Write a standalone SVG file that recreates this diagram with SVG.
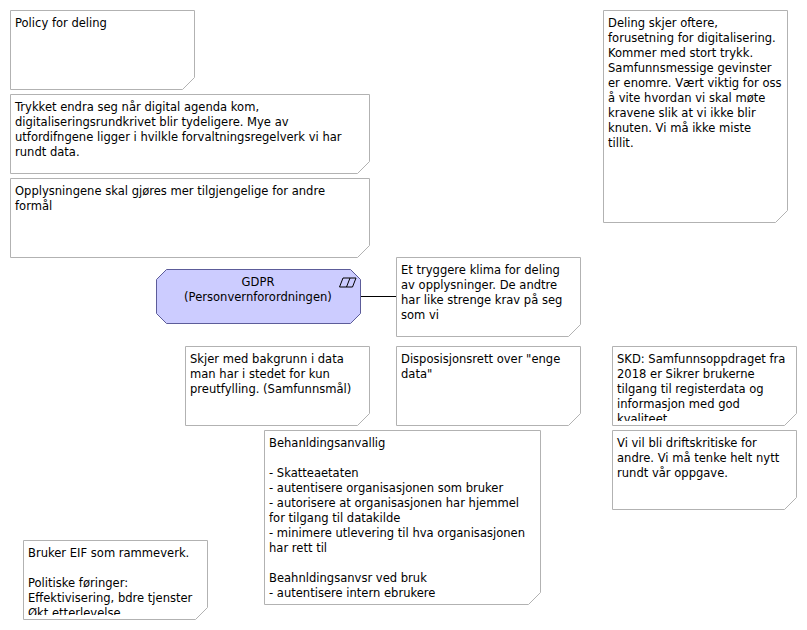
<svg xmlns="http://www.w3.org/2000/svg" width="807" height="630" viewBox="0 0 807 630">
<style>
.n{fill:#fff;stroke:#b2b2b2;stroke-width:1}
text{font-family:"DejaVu Sans",sans-serif;font-size:11.55px;fill:#000}
.c{text-anchor:middle}
</style>
<defs>
<clipPath id="c1"><rect x="613" y="347" width="183" height="74"/></clipPath>
<clipPath id="c2"><rect x="24" y="541" width="183" height="74"/></clipPath>
</defs>
<rect width="807" height="630" fill="#fff"/>
<g id="connectors"><line x1="360" y1="296.500" x2="396" y2="296.500" stroke="#000" stroke-width="1"/></g>
<g id="n1"><path class="n" d="M10.500 10.500H194.500V77.500L182.500 89.500H10.500Z"/>
<text x="15" y="27">Policy for deling</text></g>
<g id="n2"><path class="n" d="M10.500 94.500H369.500V161.500L357.500 173.500H10.500Z"/>
<text x="15" y="111">Trykket endra seg når digital agenda kom,</text>
<text x="15" y="126">digitaliseringsrundkrivet blir tydeligere. Mye av</text>
<text x="15" y="141">utfordifngene ligger i hvilkle forvaltningsregelverk vi har</text>
<text x="15" y="156">rundt data.</text></g>
<g id="n3"><path class="n" d="M10.500 178.500H369.500V245.500L357.500 257.500H10.500Z"/>
<text x="15" y="195">Opplysningene skal gjøres mer tilgjengelige for andre</text>
<text x="15" y="210">formål</text></g>
<g id="n4"><path d="M166.500 269.500H350.500L360.500 279.500V313.500L350.500 323.500H166.500L156.500 313.500V279.500Z" fill="#ccccff" stroke="#5c5c99" stroke-width="1"/>
<path d="M343 278H356L352.500 287H339.500Z" fill="none" stroke="#000" stroke-width="1"/><line x1="350" y1="278" x2="346.500" y2="287" stroke="#000" stroke-width="1"/>
<text class="c" x="258" y="286">GDPR</text>
<text class="c" x="258" y="301">(Personvernforordningen)</text></g>
<g id="n5"><path class="n" d="M396.500 257.500H580.500V324.500L568.500 336.500H396.500Z"/>
<text x="401" y="274">Et tryggere klima for deling</text>
<text x="401" y="289">av opplysninger. De andtre</text>
<text x="401" y="304">har like strenge krav på seg</text>
<text x="401" y="319">som vi</text></g>
<g id="n6"><path class="n" d="M185.500 346.500H369.500V413.500L357.500 425.500H185.500Z"/>
<text x="190" y="363">Skjer med bakgrunn i data</text>
<text x="190" y="378">man har i stedet for kun</text>
<text x="190" y="393">preutfylling. (Samfunnsmål)</text></g>
<g id="n7"><path class="n" d="M396.500 346.500H580.500V413.500L568.500 425.500H396.500Z"/>
<text x="401" y="363">Disposisjonsrett over "enge</text>
<text x="401" y="378">data"</text></g>
<g id="n8"><path class="n" d="M612.500 346.500H796.500V413.500L784.500 425.500H612.500Z"/>
<g clip-path="url(#c1)"><text x="617" y="363">SKD: Samfunnsoppdraget fra</text>
<text x="617" y="378">2018 er Sikrer brukerne</text>
<text x="617" y="393">tilgang til registerdata og</text>
<text x="617" y="408">informasjon med god</text>
<text x="617" y="423">kvaliteet</text></g></g>
<g id="n9"><path class="n" d="M612.500 430.500H796.500V497.500L784.500 509.500H612.500Z"/>
<text x="617" y="447">Vi vil bli driftskritiske for</text>
<text x="617" y="462">andre. Vi må tenke helt nytt</text>
<text x="617" y="477">rundt vår oppgave.</text></g>
<g id="n10"><path class="n" d="M264.500 430.500H540.500V592.500L528.500 604.500H264.500Z"/>
<text x="269" y="447">Behanldingsanvallig</text>
<text x="269" y="477">- Skatteaetaten</text>
<text x="269" y="492">- autentisere organisasjonen som bruker</text>
<text x="269" y="507">- autorisere at organisasjonen har hjemmel</text>
<text x="269" y="522">for tilgang til datakilde</text>
<text x="269" y="537">- minimere utlevering til hva organisasjonen</text>
<text x="269" y="552">har rett til</text>
<text x="269" y="582">Beahnldingsanvsr ved bruk</text>
<text x="269" y="597">- autentisere intern ebrukere</text></g>
<g id="n11"><path class="n" d="M23.500 540.500H207.500V607.500L195.500 619.500H23.500Z"/>
<g clip-path="url(#c2)"><text x="28" y="557">Bruker EIF som rammeverk.</text>
<text x="28" y="587">Politiske føringer:</text>
<text x="28" y="602">Effektivisering, bdre tjenster</text>
<text x="28" y="617">Økt etterlevelse</text></g></g>
<g id="n12"><path class="n" d="M603.500 10.500H787.500V210.500L775.500 222.500H603.500Z"/>
<text x="608" y="27">Deling skjer oftere,</text>
<text x="608" y="42">forusetning for digitalisering.</text>
<text x="608" y="57">Kommer med stort trykk.</text>
<text x="608" y="72">Samfunnsmessige gevinster</text>
<text x="608" y="87">er enomre. Vært viktig for oss</text>
<text x="608" y="102">å vite hvordan vi skal møte</text>
<text x="608" y="117">kravene slik at vi ikke blir</text>
<text x="608" y="132">knuten. Vi må ikke miste</text>
<text x="608" y="147">tillit.</text></g>
</svg>
